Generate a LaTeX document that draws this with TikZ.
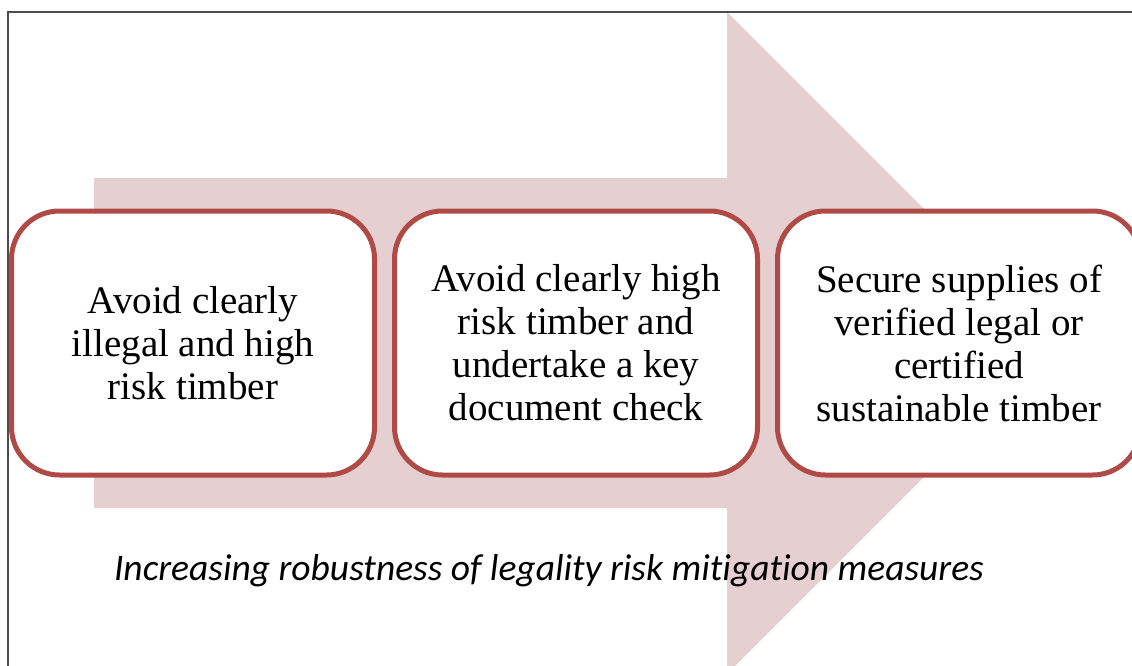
\documentclass[tikz,border=0pt]{standalone}
\usepackage{fontspec}
\setmainfont{Liberation Serif}
\newfontfamily\captionfont[Ligatures=NoCommon]{Carlito}
\usetikzlibrary{positioning}
\definecolor{arrowpink}{RGB}{230,207,208}
\definecolor{boxred}{RGB}{176,74,71}
\tikzset{
  stage/.style={draw=boxred,line width=5pt,fill=white,rounded corners=48pt,
    minimum width=363pt,minimum height=264pt,align=center,
    font=\fontsize{39}{43}\selectfont},
  caption/.style={font=\captionfont\itshape\fontsize{37.5}{42}\selectfont}
}

\begin{document}
\begin{tikzpicture}[x=1pt,y=-1pt]
                      \useasboundingbox (0,0) rectangle (1132,666);
                      \clip (0,0) rectangle (1132,666);
                      \fill[arrowpink] (94,178) -- (727,178) -- (727,12) -- (1058,343) -- (727,674) -- (727,508) -- (94,508) -- cycle;
                      \draw[gray!60!black,line width=1.2pt] (8,666) -- (8,12) -- (1140,12);
                      \node[stage](avoid)at(193,343){Avoid clearly\\illegal and high\\risk timber};
                      \node[stage,right=15pt of avoid](check){Avoid clearly high\\risk timber and\\undertake a key\\document check};
                      \node[stage,right=15pt of check](secure){Secure supplies of\\verified legal or\\certified\\sustainable timber};
                      \node[caption](robust)at(549,571){Increasing robustness of legality risk mitigation measures};
                  \end{tikzpicture}
\end{document}
